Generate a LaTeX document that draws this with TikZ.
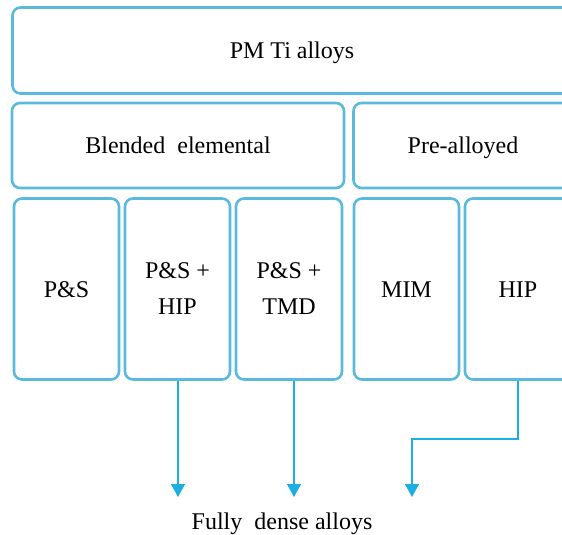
\documentclass[tikz,border=0pt]{standalone}
\usepackage{fontspec}
\setmainfont{Liberation Serif}
\usetikzlibrary{arrows.meta}
\definecolor{boxblue}{HTML}{5BB9DE}
\definecolor{arrowblue}{HTML}{1DAFE2}
\begin{document}
\begin{tikzpicture}[x=1pt,y=-1pt,
  stage/.style={draw=boxblue, line width=2.6pt, rounded corners=8pt,
    inner sep=0pt, align=center, font=\fontsize{24}{36}\selectfont},
  oneline/.style={text height=19pt, text depth=3pt},
  flow/.style={draw=arrowblue, line width=1.3pt,
    -{Triangle[length=13pt,width=14pt]}}]
\useasboundingbox (0,0) rectangle (562,535);
\clip (0,0) rectangle (562,535);
% top level
\node[stage, oneline, minimum width=559pt, minimum height=86pt] (pm) at (292,50.5) {PM Ti alloys};
% powder routes
\node[stage, oneline, minimum width=332pt, minimum height=85pt] (be) at (178,145.5) {Blended\ \ elemental};
\node[stage, oneline, minimum width=219pt, minimum height=85pt] (pa) at (463,145.5) {Pre-alloyed};
% processing routes
\node[stage, oneline, minimum width=105pt, minimum height=181pt] (ps) at (66.5,289) {P\&S};
\node[stage, minimum width=105pt, minimum height=181pt] (pship) at (177.5,289) {P\&S +\\HIP};
\node[stage, minimum width=106pt, minimum height=181pt] (pstmd) at (289,289) {P\&S +\\TMD};
\node[stage, oneline, minimum width=105pt, minimum height=181pt] (mim) at (406.5,289) {MIM};
\node[stage, oneline, minimum width=106pt, minimum height=181pt] (hip) at (518,289) {HIP};
% result
\node[oneline, font=\fontsize{24}{28}\selectfont] (fd) at (282,521) {Fully\ \ dense alloys};
\coordinate (e1) at (178,497);
\coordinate (e2) at (294,497);
\coordinate (e3) at (412,497);
\draw[flow] (pship.south -| e1) -- (e1);
\draw[flow] (pstmd.south -| e2) -- (e2);
\draw[flow] (hip.south) -- (518,439) -| (e3);
\end{tikzpicture}
\end{document}
